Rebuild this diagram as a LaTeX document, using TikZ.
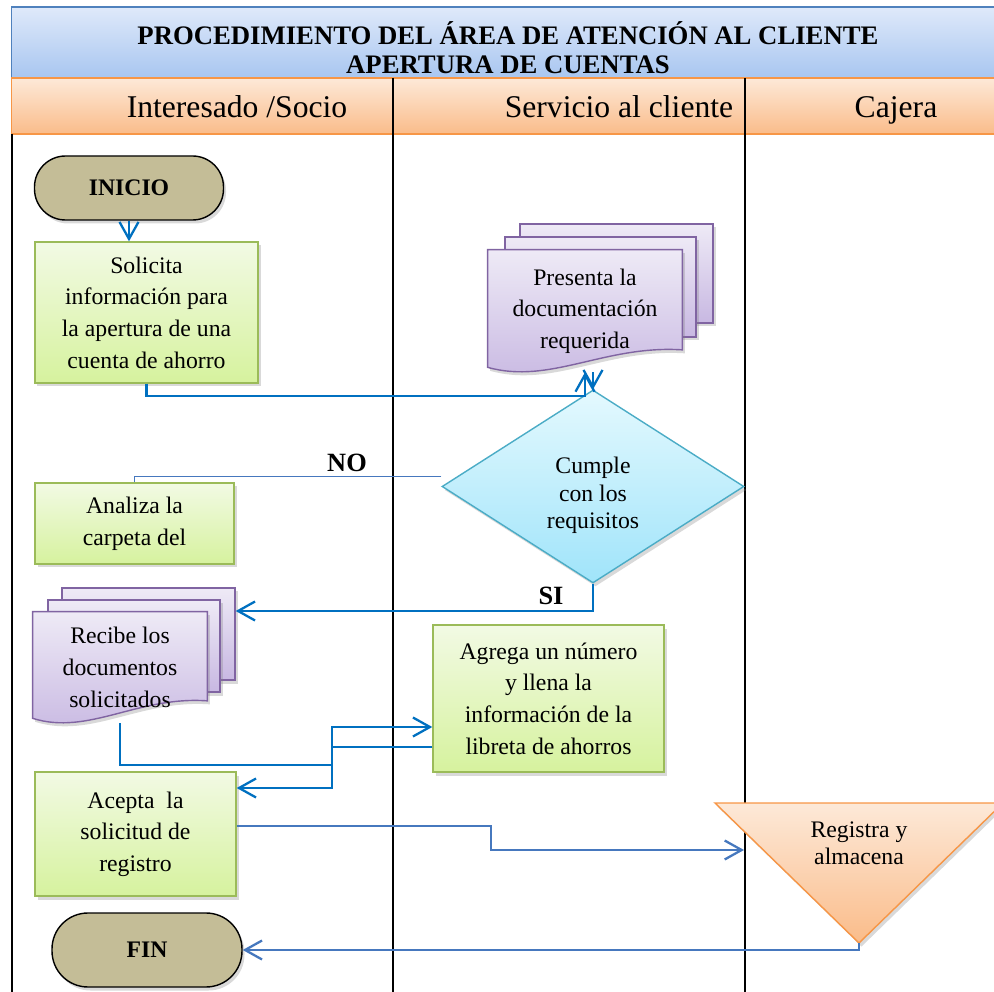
\documentclass[tikz,border=0pt]{standalone}
\usepackage{fontspec}
\setmainfont{Liberation Serif}
\definecolor{TitleTop}{RGB}{223,233,250}
\definecolor{TitleBot}{RGB}{168,198,240}
\definecolor{TitleLine}{RGB}{79,129,189}
\definecolor{LaneTop}{RGB}{253,233,216}
\definecolor{LaneBot}{RGB}{250,188,138}
\definecolor{LaneLine}{RGB}{247,150,70}
\definecolor{ProcTop}{RGB}{242,250,228}
\definecolor{ProcBot}{RGB}{214,242,158}
\definecolor{ProcLine}{RGB}{155,187,89}
\definecolor{DocTop}{RGB}{238,234,246}
\definecolor{DocBot}{RGB}{200,184,226}
\definecolor{DocLine}{RGB}{128,100,162}
\definecolor{DecTop}{RGB}{228,249,254}
\definecolor{DecBot}{RGB}{160,228,250}
\definecolor{DecLine}{RGB}{75,172,198}
\definecolor{TermFill}{RGB}{196,189,151}
\definecolor{ArrBlue}{RGB}{0,112,192}
\definecolor{SteelBlue}{RGB}{70,120,190}
\usetikzlibrary{arrows.meta, shapes.geometric, positioning, calc, shadows, backgrounds}

\newcommand{\docfront}[1]{%
  \draw[docpage] (#1.north west) -- (#1.north east) -- ($(#1.south east)+(0,0.45)$)
    .. controls ($(#1.south west)!0.6!(#1.south east)+(0,0.55)$) and ($(#1.south west)!0.32!(#1.south east)+(0,-0.25)$)
    .. ($(#1.south west)+(0,0.1)$) -- cycle;}

\begin{document}
\begin{tikzpicture}[
		boxshadow/.style={drop shadow={shadow xshift=0.05cm, shadow yshift=-0.07cm, opacity=0.3}},
		band/.style={draw, thick, minimum width=19.77cm},
		txt/.style={align=center, font=\fontsize{13.5}{18}\selectfont},
		proc/.style={txt, draw=ProcLine, thick, top color=ProcTop, bottom color=ProcBot, boxshadow},
		term/.style={draw=black, thick, fill=TermFill, font=\fontsize{13.5}{16}\selectfont\bfseries, boxshadow},
		decis/.style={diamond, draw=DecLine, thick, top color=DecTop, bottom color=DecBot, inner sep=0pt, boxshadow},
		docpage/.style={draw=DocLine, thick, top color=DocTop, bottom color=DocBot, boxshadow},
		tribox/.style={draw=LaneLine, thick, top color=LaneTop, bottom color=LaneBot, boxshadow},
		lanetxt/.style={anchor=base, font=\fontsize{18}{20}\selectfont},
		lbl/.style={font=\fontsize{15}{16}\selectfont\bfseries},
		lane/.style={draw=black, line width=0.8pt},
		arr/.style={-{Straight Barb[length=3.4mm,width=3.8mm]}, line width=1.3pt, ArrBlue},
		arrb/.style={-{Straight Barb[length=3.4mm,width=3.8mm]}, line width=1.3pt, SteelBlue}]
	\useasboundingbox (0,0) rectangle (19.88,-19.84);

	\node[band, draw=TitleLine, top color=TitleTop, bottom color=TitleBot, minimum height=1.42cm] (title) at (10.115,-0.85) {};
	\node[align=center, font=\fontsize{15.2}{16.5}\selectfont\bfseries] (titletxt) at (10.16,-0.95)
		{PROCEDIMIENTO DEL ÁREA DE ATENCIÓN AL CLIENTE\\APERTURA DE CUENTAS};
	\node[band, draw=LaneLine, top color=LaneTop, bottom color=LaneBot, minimum height=1.12cm] (lanes) at (10.115,-2.12) {};
	\node[lanetxt] (socio) at (4.74,-2.36) {Interesado /Socio};
	\node[lanetxt] (servicio) at (12.38,-2.36) {Servicio al cliente};
	\node[lanetxt] (cajera) at (17.92,-2.36) {Cajera};
	\foreach \x in {7.86,14.90}
		\draw[lane] (\x,-1.56) -- (\x,-19.84);
	\draw[lane] (0.24,-2.68) -- (0.24,-19.84);

	\node[term, minimum width=3.78cm, minimum height=1.28cm, rounded corners=0.62cm] (inicio) at (2.58,-3.76) {INICIO};
	\node[proc, minimum width=4.46cm, minimum height=2.82cm] (solicita) at (2.93,-6.25)
		{Solicita\\información para\\la apertura de una\\cuenta de ahorro};

	\node[txt, minimum width=3.88cm, minimum height=2.44cm] (presenta) at (11.70,-6.22)
		{Presenta la\\documentación\\requerida};
	\begin{scope}[on background layer]
		\node[docpage, minimum width=3.86cm, minimum height=1.98cm] (presenta3) at (12.33,-5.47) {};
		\node[docpage, minimum width=3.82cm, minimum height=2.00cm] (presenta2) at (12.01,-5.74) {};
		\docfront{presenta}
	\end{scope}

	\node[decis, minimum width=6.04cm, minimum height=3.86cm] (cumple) at (11.86,-9.73) {};
	\node[txt, font=\fontsize{13.5}{15.5}\selectfont] (cumpletxt) at (11.86,-9.91)
		{Cumple\\con los\\requisitos};
	\node[proc, minimum width=3.98cm, minimum height=1.62cm] (analiza) at (2.69,-10.47)
		{Analiza la\\carpeta del};

	\node[txt, minimum width=3.48cm, minimum height=2.22cm] (recibe) at (2.40,-13.35)
		{Recibe los\\documentos\\solicitados};
	\begin{scope}[on background layer]
		\node[docpage, minimum width=3.46cm, minimum height=1.84cm] (recibe3) at (2.97,-12.68) {};
		\node[docpage, minimum width=3.44cm, minimum height=1.84cm] (recibe2) at (2.68,-12.92) {};
		\docfront{recibe}
	\end{scope}

	\node[proc, minimum width=4.62cm, minimum height=2.94cm] (agrega) at (10.97,-13.97)
		{Agrega un número\\y llena la\\información de la\\libreta de ahorros};
	\node[proc, minimum width=4.02cm, minimum height=2.48cm] (acepta) at (2.71,-16.68)
		{Acepta\ \ la\\solicitud de\\registro};

	\coordinate (regapex) at (17.18,-18.86);
	\coordinate (regin) at (14.88,-17.0);
	\filldraw[tribox] (14.30,-16.06) -- (20.06,-16.06) -- (regapex) -- cycle;
	\node[txt, font=\fontsize{13.5}{15.5}\selectfont] (registra) at (17.18,-16.86) {Registra y\\almacena};

	\node[term, minimum width=3.8cm, minimum height=1.48cm, rounded corners=0.72cm] (fin) at (2.94,-19.0) {FIN};

	\draw[arr] (inicio.south) -- (inicio.south |- solicita.north);
	\draw[arr] (solicita.south) -- ++(0,-0.24) -| (presenta.south);
	\draw[arr] (presenta.south -| cumple.north) -- (cumple.north);
	\draw[SteelBlue, line width=0.8pt] ([yshift=0.2cm]cumple.west) -| (analiza.north);
	\node[lbl] (no) at (6.94,-9.26) {NO};
	\draw[arr] (cumple.south) |- ([yshift=0.46cm]recibe3.east);
	\node[lbl] (si) at (11.02,-11.92) {SI};
	\draw[arr] (recibe.south) |- ($(agrega.west)+(-2.0,-1.33)$) |- ([yshift=-0.57cm]agrega.west);
	\draw[arr] ([yshift=-0.97cm]agrega.west) -- ++(-2.0,0) |- ([yshift=0.92cm]acepta.east);
	\draw[arrb] ([yshift=0.16cm]acepta.east) -- ++(5.08,0) |- (regin);
	\draw[arrb] (regapex) |- (fin.east);
\end{tikzpicture}
\end{document}
